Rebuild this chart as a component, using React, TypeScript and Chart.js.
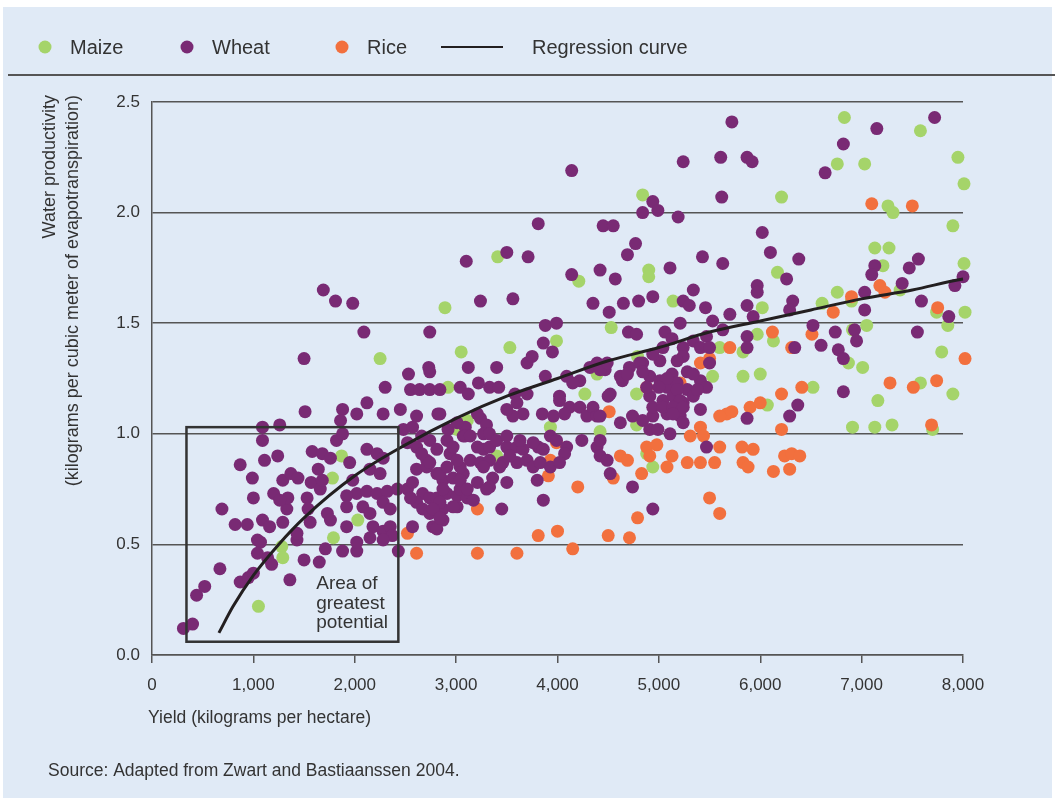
import React, { useEffect, useRef } from "react";
import { Chart, registerables } from "chart.js";

Chart.register(...registerables);

const W = 1055;
const H = 801;

const BG = "#E0EAF6";
const WHEAT_COLOR = "#792A74";
const MAIZE_COLOR = "#A5D46A";
const RICE_COLOR = "#F2703E";
const TEXT = "#333333";
const FONT = '"Liberation Sans", Arial, Helvetica, sans-serif';

const legendLabels = ["Maize", "Wheat", "Rice", "Regression curve"];
const xTickLabels = ["0", "1,000", "2,000", "3,000", "4,000", "5,000", "6,000", "7,000", "8,000"];
const yTickLabels = ["0.0", "0.5", "1.0", "1.5", "2.0", "2.5"];
const yTitle = ["Water productivity", "(kilograms per cubic meter of evapotranspiration)"];
const xTitle = "Yield (kilograms per hectare)";
const sourceText = "Source: Adapted from Zwart and Bastiaanssen 2004.";
const areaLabel = ["Area of", "greatest", "potential"];
const areaBox = { x0: 340, x1: 2430, y0: 0.06, y1: 1.03 };
const areaLabelPos = { x: 1620, y: 0.32 };

const regressionX = [660, 800, 1000, 1250, 1500, 2000, 2500, 3000, 3500, 4000, 4500, 5000, 5500, 6000, 6500, 7000, 7500, 8000, 8200];
const regressionY = [0.1, 0.22, 0.36, 0.5, 0.62, 0.81, 0.95, 1.07, 1.17, 1.25, 1.33, 1.39, 1.46, 1.51, 1.56, 1.61, 1.65, 1.7, 1.71];

const maize: [number, number][] = [
  [1050, 0.22], [1280, 0.49], [1290, 0.44], [1790, 0.53], [2030, 0.61], [1780, 0.8], [1870, 0.9], [2920, 1.21],
  [3010, 1.02], [2250, 1.34], [2890, 1.57], [3050, 1.37], [3410, 1.8], [3530, 1.39], [3990, 1.42], [4210, 1.69],
  [4530, 1.48], [4390, 1.27], [4270, 1.18], [4780, 1.18], [4420, 1.01], [3930, 1.03], [3110, 1.06], [3400, 0.9],
  [4900, 1.74], [4900, 1.71], [5140, 1.6], [4940, 0.85], [4880, 0.91], [4840, 2.08], [6020, 1.57], [6210, 2.07],
  [6170, 1.73], [6830, 2.43], [7580, 2.37], [8090, 2.31], [7950, 2.25], [8010, 2.13], [6760, 2.22], [7030, 2.22],
  [7260, 2.03], [7310, 2.0], [7900, 1.94], [7130, 1.84], [7270, 1.84], [7210, 1.76], [8010, 1.77], [6610, 1.59],
  [6760, 1.64], [6900, 1.6], [7380, 1.65], [7740, 1.55], [8020, 1.55], [8070, 1.53], [7850, 1.49], [7050, 1.49],
  [6910, 1.47], [5970, 1.45], [5600, 1.39], [6130, 1.42], [7790, 1.37], [7010, 1.3], [6870, 1.32], [5830, 1.26],
  [6000, 1.27], [7580, 1.23], [4790, 1.35], [6520, 1.21], [7900, 1.18], [7160, 1.15], [6910, 1.03], [7130, 1.03],
  [7300, 1.04], [7700, 1.02], [4780, 1.04], [6070, 1.13], [5530, 1.26], [5830, 1.37],
];

const rice: [number, number][] = [
  [2520, 0.55], [2610, 0.46], [3210, 0.66], [3210, 0.46], [3600, 0.46], [3810, 0.54], [4000, 0.56], [4150, 0.48],
  [4500, 0.54], [4710, 0.53], [4790, 0.62], [4200, 0.76], [3930, 0.88], [3990, 0.96], [3910, 0.81], [4510, 1.1],
  [4550, 0.8], [4620, 0.9], [4690, 0.88], [4830, 0.82], [4880, 0.94], [4980, 0.95], [4910, 0.9], [5130, 0.9],
  [5080, 0.85], [5280, 0.87], [5410, 0.87], [5550, 0.87], [5600, 0.94], [5820, 0.94], [5930, 0.93], [5830, 0.87],
  [5880, 0.85], [6130, 0.83], [6290, 0.84], [6240, 0.9], [6310, 0.91], [6390, 0.9], [5310, 0.99], [5410, 1.03],
  [5440, 0.99], [5500, 0.71], [5600, 0.64], [5670, 1.09], [5600, 1.08], [5720, 1.1], [5900, 1.12], [6000, 1.14],
  [6210, 1.18], [6410, 1.21], [6210, 1.02], [6120, 1.46], [6510, 1.45], [5700, 1.39], [5500, 1.34], [5410, 1.32],
  [5210, 1.23], [4880, 1.21], [8020, 1.34], [7740, 1.24], [7510, 1.21], [7280, 1.23], [7690, 1.04], [7100, 2.04],
  [7500, 2.03], [6900, 1.62], [7180, 1.67], [7230, 1.64], [6720, 1.55], [7750, 1.57], [6310, 1.39],
];

const wheat: [number, number][] = [
  [310, 0.12], [400, 0.14], [440, 0.27], [520, 0.31], [670, 0.39], [870, 0.33], [950, 0.35], [1000, 0.37],
  [1360, 0.34], [690, 0.66], [820, 0.59], [940, 0.59], [1000, 0.71], [870, 0.86], [990, 0.8], [1090, 1.03],
  [1090, 0.97], [1260, 1.04], [1110, 0.88], [1240, 0.9], [1200, 0.73], [1290, 0.79], [1370, 0.82], [1440, 0.8],
  [1070, 0.51], [1040, 0.46], [1140, 0.44], [1180, 0.41], [1090, 0.61], [1160, 0.58], [1290, 0.6], [1330, 0.66],
  [1340, 0.71], [1260, 0.7], [1500, 0.43], [1650, 0.42], [1560, 0.6], [1730, 0.64], [1760, 0.61], [1530, 0.71],
  [1540, 0.66], [1570, 0.78], [1660, 0.75], [1640, 0.84], [1680, 0.79], [1580, 0.92], [1680, 0.91], [1760, 0.89],
  [1880, 1.11], [2020, 1.09], [2120, 1.14], [1860, 1.06], [1820, 0.97], [1880, 1.0], [1950, 0.87], [1980, 0.79],
  [2020, 0.73], [1920, 0.72], [1920, 0.67], [1920, 0.58], [1880, 0.47], [2020, 0.47], [2020, 0.51], [2080, 0.67],
  [2150, 0.64], [2180, 0.58], [2280, 0.56], [2350, 0.58], [2370, 0.54], [2430, 0.47], [2570, 0.58], [2120, 0.93],
  [2220, 0.91], [2280, 0.89], [2300, 1.21], [2280, 1.09], [2450, 1.11], [2530, 1.27], [2740, 1.28], [2550, 1.2],
  [2640, 1.2], [2740, 1.2], [2840, 1.2], [3040, 1.21], [2480, 1.02], [2570, 1.03], [2660, 0.99], [2520, 0.96],
  [2610, 0.94], [2710, 0.88], [2810, 0.82], [2740, 0.97], [2910, 0.97], [3070, 0.99], [2810, 0.93], [2940, 0.91],
  [2660, 0.91], [2610, 0.84], [2710, 0.85], [2870, 0.79], [2970, 0.8], [3070, 0.82], [2150, 0.84], [2250, 0.82],
  [2120, 0.74], [2220, 0.73], [2320, 0.74], [2420, 0.75], [2520, 0.75], [2670, 0.73], [2740, 0.71], [2810, 0.71],
  [2910, 0.73], [3010, 0.72], [2280, 0.69], [2350, 0.66], [2610, 0.69], [2670, 0.66], [2740, 0.64], [2870, 0.66],
  [3010, 0.67], [2770, 0.58], [2870, 0.61], [2810, 0.57], [2150, 0.53], [2280, 0.52], [1710, 0.48], [2610, 1.08],
  [2820, 1.09], [1430, 0.52], [1430, 0.55], [1040, 0.52], [1510, 1.1],
  [1690, 1.65], [1810, 1.6], [1980, 1.59], [2090, 1.46], [2740, 1.46], [1500, 1.34], [2730, 1.3], [3120, 1.3],
  [3400, 1.3], [3220, 1.23], [3330, 1.21], [3420, 1.21], [3120, 1.18], [3580, 1.18], [3700, 1.18], [3880, 1.26],
  [4090, 1.26], [4220, 1.24], [4320, 1.3], [4390, 1.32], [4470, 1.29], [4640, 1.24], [4520, 1.18], [4020, 1.17],
  [4710, 1.3], [4150, 1.23], [3880, 1.49], [3990, 1.5], [3860, 1.41], [3950, 1.37], [3700, 1.32], [3750, 1.35],
  [3240, 1.6], [3560, 1.61], [3100, 1.78], [3500, 1.82], [3710, 1.8], [4140, 2.19], [3810, 1.95], [4140, 1.72],
  [4420, 1.74], [4570, 1.7], [4350, 1.59], [4510, 1.55], [4650, 1.59], [4700, 1.46], [4780, 1.45],
  [3600, 1.14], [3660, 1.09], [3560, 1.08], [3500, 1.11], [4020, 1.15], [4120, 1.12], [4070, 1.09], [3850, 1.09],
  [3960, 1.08], [4220, 1.12], [4290, 1.08], [4350, 1.12], [4390, 1.08], [4620, 1.05], [4740, 1.08], [2840, 1.09],
  [3240, 1.07], [3300, 1.04], [3270, 1.0], [3090, 1.03], [3090, 0.99], [2920, 1.02], [2970, 0.94], [3040, 0.85],
  [3210, 0.94], [3270, 0.93], [3330, 0.94], [3140, 0.88], [3240, 0.87], [3330, 0.88], [3360, 0.8], [3330, 0.76],
  [3500, 0.94], [3600, 0.94], [3660, 0.93], [3460, 0.87], [3600, 0.87], [3700, 0.88], [3810, 0.94], [3760, 0.85],
  [3830, 0.87], [3930, 0.99], [3990, 0.97], [4090, 0.94], [4070, 0.91], [3930, 0.85], [4240, 0.97], [4390, 0.94],
  [4420, 0.9], [4490, 0.88], [4520, 0.82], [3500, 0.78], [2840, 0.82], [2870, 0.75], [3040, 0.75], [3110, 0.71],
  [3170, 0.7], [2840, 0.69], [2970, 0.67], [3450, 0.66], [3860, 0.7], [4740, 0.76],
  [3010, 1.05], [3210, 1.09], [4500, 1.17], [3140, 0.99], [3330, 1.0], [3400, 0.97], [3500, 0.99], [3630, 0.97],
  [3760, 0.96], [3860, 0.93], [2740, 0.87], [3010, 0.88], [2910, 0.85], [3270, 0.85], [3530, 0.9], [3430, 0.85],
  [4020, 0.87], [3800, 0.79], [2570, 0.78], [2550, 0.71], [3040, 0.79], [3110, 0.75], [3210, 0.78], [3300, 0.75],
  [2770, 0.66], [2840, 0.62], [4940, 0.66],
  [5720, 2.41], [5240, 2.23], [5610, 2.25], [5870, 2.25], [5920, 2.23], [5620, 2.07], [4940, 2.05], [4990, 2.01],
  [4840, 2.0], [5190, 1.98], [4450, 1.94], [4550, 1.94], [4770, 1.86], [4690, 1.81], [6020, 1.91], [6100, 1.82],
  [6380, 1.79], [5430, 1.8], [5630, 1.77], [5110, 1.75], [5340, 1.65], [6260, 1.7], [5970, 1.67], [5970, 1.64],
  [5240, 1.6], [5300, 1.58], [4940, 1.62], [4800, 1.6], [5460, 1.57], [5530, 1.51], [5210, 1.5], [5870, 1.58],
  [5930, 1.53], [6320, 1.6], [6290, 1.56], [5700, 1.54], [5060, 1.46], [5130, 1.43], [5240, 1.39], [5340, 1.42],
  [5410, 1.39], [5870, 1.44], [5870, 1.39], [5630, 1.47], [6340, 1.39], [6520, 1.49], [6600, 1.4], [6740, 1.46],
  [6770, 1.38], [6820, 1.34], [6930, 1.47], [6950, 1.42], [6640, 2.18], [6820, 2.31], [7150, 2.38], [7720, 2.43],
  [7130, 1.76], [7100, 1.72], [7030, 1.64], [7030, 1.56], [7560, 1.79], [7470, 1.75], [7400, 1.68], [7590, 1.6],
  [7920, 1.67], [8000, 1.71], [7860, 1.53], [7550, 1.46], [5010, 1.33], [4840, 1.32], [4620, 1.26], [5500, 1.32],
  [5130, 1.27], [5280, 1.28],
  [4420, 1.29], [4490, 1.32], [4810, 1.32], [4910, 1.26], [5010, 1.24], [5080, 1.21], [5180, 1.23], [5280, 1.2],
  [5410, 1.24], [5470, 1.21], [4910, 1.17], [5040, 1.15], [5140, 1.17], [5240, 1.14], [5340, 1.17], [5410, 1.11],
  [5210, 1.08], [5080, 1.09], [4940, 1.08], [4840, 1.06], [4910, 1.02], [5110, 1.0], [4990, 1.02], [4420, 1.08],
  [5470, 1.44], [5500, 1.39], [5040, 1.39], [5240, 1.35], [5180, 1.33], [4940, 1.36], [4690, 1.27], [4840, 1.28],
  [5340, 1.27], [5080, 1.25], [4880, 1.21], [5000, 1.21], [5180, 1.2], [5380, 1.2], [5210, 1.15], [4940, 1.12],
  [5040, 1.12], [5140, 1.12], [5240, 1.12], [5140, 1.09], [5240, 1.05], [5870, 1.07], [5470, 0.94], [4420, 0.97],
  [6820, 1.19], [6370, 1.13], [6290, 1.08],
];

const toPoints = (arr: [number, number][]) => arr.map(([x, y]) => ({ x, y }));

export default function App() {
  const ref = useRef<HTMLCanvasElement>(null);

  useEffect(() => {
    const canvas = ref.current;
    if (!canvas) return;

    const decor = {
      id: "decor",
      beforeDraw(chart: any) {
        const ctx = chart.ctx;
        ctx.save();
        ctx.fillStyle = "#ffffff";
        ctx.fillRect(0, 0, W, H);
        ctx.fillStyle = BG;
        ctx.fillRect(3, 7, W - 6, H - 10);
        ctx.restore();
      },
      afterDatasetsDraw(chart: any) {
        const ctx = chart.ctx;
        const xs = chart.scales.x;
        const ys = chart.scales.y;
        ctx.save();
        const x0 = xs.getPixelForValue(areaBox.x0);
        const x1 = xs.getPixelForValue(areaBox.x1);
        const y0 = ys.getPixelForValue(areaBox.y1);
        const y1 = ys.getPixelForValue(areaBox.y0);
        ctx.strokeStyle = "#333333";
        ctx.lineWidth = 2.5;
        ctx.strokeRect(x0, y0, x1 - x0, y1 - y0);
        ctx.fillStyle = TEXT;
        ctx.font = `19px ${FONT}`;
        ctx.textAlign = "left";
        ctx.textBaseline = "middle";
        const lx = xs.getPixelForValue(areaLabelPos.x);
        const ly = ys.getPixelForValue(areaLabelPos.y);
        areaLabel.forEach((t, i) => ctx.fillText(t, lx, ly + i * 19.5));
        ctx.restore();
      },
      afterDraw(chart: any) {
        const ctx = chart.ctx;
        ctx.save();
        // legend
        ctx.font = `20px ${FONT}`;
        ctx.textBaseline = "middle";
        ctx.textAlign = "left";
        const ly = 47;
        const dots = [
          { cx: 45, tx: 70, color: MAIZE_COLOR },
          { cx: 187, tx: 212, color: WHEAT_COLOR },
          { cx: 342, tx: 367, color: RICE_COLOR },
        ];
        dots.forEach((d, i) => {
          ctx.fillStyle = d.color;
          ctx.beginPath();
          ctx.arc(d.cx, ly, 6.5, 0, Math.PI * 2);
          ctx.fill();
          ctx.fillStyle = TEXT;
          ctx.fillText(legendLabels[i], d.tx, ly + 1);
        });
        ctx.strokeStyle = "#231f20";
        ctx.lineWidth = 2;
        ctx.beginPath();
        ctx.moveTo(441, ly);
        ctx.lineTo(503, ly);
        ctx.stroke();
        ctx.fillStyle = TEXT;
        ctx.fillText(legendLabels[3], 532, ly + 1);
        // separator
        ctx.strokeStyle = "#555555";
        ctx.lineWidth = 2;
        ctx.beginPath();
        ctx.moveTo(8, 75);
        ctx.lineTo(W, 75);
        ctx.stroke();
        // y title
        ctx.font = `18px ${FONT}`;
        ctx.fillStyle = TEXT;
        [50, 73].forEach((x, i) => {
          ctx.save();
          ctx.translate(x, 95);
          ctx.rotate(-Math.PI / 2);
          ctx.textAlign = "right";
          ctx.textBaseline = "middle";
          ctx.fillText(yTitle[i], 0, 0);
          ctx.restore();
        });
        // x title and source
        ctx.font = `17.5px ${FONT}`;
        ctx.textAlign = "left";
        ctx.textBaseline = "middle";
        ctx.fillText(xTitle, 148, 718);
        ctx.fillText(sourceText, 48, 771);
        ctx.restore();
      },
    };

    const pointDs = (label: string, arr: [number, number][], color: string, order: number) => ({
      type: "scatter" as const,
      label,
      data: toPoints(arr),
      backgroundColor: color,
      borderColor: color,
      pointBackgroundColor: color,
      pointBorderColor: color,
      pointRadius: 6.5,
      pointBorderWidth: 0,
      borderWidth: 0,
      clip: false as any,
      order,
    });

    const chart = new Chart(canvas, {
      type: "scatter",
      data: {
        datasets: [
          {
            type: "line",
            label: legendLabels[3],
            data: regressionX.map((x, i) => ({ x, y: regressionY[i] })),
            borderColor: "#231f20",
            borderWidth: 3,
            pointRadius: 0,
            showLine: true,
            fill: false,
            cubicInterpolationMode: "monotone",
            clip: false as any,
            order: 0,
          } as any,
          pointDs(legendLabels[1], wheat, WHEAT_COLOR, 1),
          pointDs(legendLabels[2], rice, RICE_COLOR, 2),
          pointDs(legendLabels[0], maize, MAIZE_COLOR, 3),
        ],
      },
      options: {
        responsive: false,
        devicePixelRatio: 1,
        animation: false,
        events: [],
        layout: { padding: { top: 102, right: 92, left: 0, bottom: 0 } },
        plugins: { legend: { display: false }, tooltip: { enabled: false } },
        scales: {
          x: {
            type: "linear",
            min: 0,
            max: 8000,
            ticks: {
              stepSize: 1000,
              autoSkip: false,
              maxRotation: 0,
              padding: 12,
              color: TEXT,
              font: { family: FONT, size: 17 },
              callback: (v: any) => xTickLabels[Math.round(Number(v) / 1000)] ?? "",
            },
            grid: { drawOnChartArea: false, drawTicks: true, tickLength: 8, color: "#555555", lineWidth: 1.5 },
            border: { color: "#555555", width: 1.5 },
            afterFit: (s: any) => {
              s.height = 146;
            },
          },
          y: {
            type: "linear",
            min: 0,
            max: 2.5,
            ticks: {
              stepSize: 0.5,
              padding: 12,
              color: TEXT,
              font: { family: FONT, size: 17 },
              callback: (v: any) => yTickLabels[Math.round(Number(v) / 0.5)] ?? "",
            },
            grid: { drawTicks: false, color: "#555555", lineWidth: 1.5 },
            border: { color: "#555555", width: 1.5 },
            afterFit: (s: any) => {
              s.width = 152;
            },
          },
        },
      } as any,
      plugins: [decor],
    });

    return () => chart.destroy();
  }, []);

  return (
    <div style={{ position: "absolute", left: 0, top: 0, width: W, height: H, overflow: "hidden" }}>
      <canvas ref={ref} width={W} height={H} style={{ display: "block", width: W, height: H }} />
    </div>
  );
}
